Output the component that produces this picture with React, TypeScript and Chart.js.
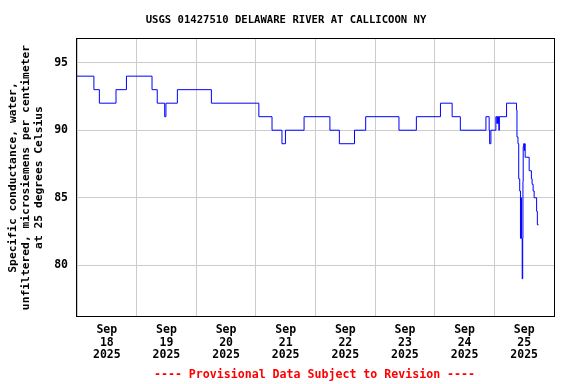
import React, { useEffect, useRef } from "react";
import { Chart, registerables } from "chart.js";

Chart.register(...registerables);

const titleText = "USGS 01427510 DELAWARE RIVER AT CALLICOON NY";
const footerText = "---- Provisional Data Subject to Revision ----";
const yTitleLines = [
  "Specific conductance, water,",
  "unfiltered, microsiemens per centimeter",
  "at 25 degrees Celsius",
];
const monthLabel = "Sep";
const yearLabel = "2025";
const dayLabels = ["18", "19", "20", "21", "22", "23", "24", "25"];
const yTickValues = [80, 85, 90, 95];

// hours since Sep 18 2025 00:00, value held until the next entry
const stepHours = [
  0, 6.8, 9.0, 15.7, 19.9, 30.2, 32.3, 35.3, 35.8, 40.4,
  54.1, 73.2, 78.5, 82.5, 83.9, 91.4, 101.8, 105.6, 111.7, 116.2,
  129.6, 136.6, 146.3, 151.0, 154.3, 164.6, 165.9, 166.1, 166.6, 168.6,
  169.0, 169.2, 169.4, 169.6, 169.8, 170.0, 172.9, 176.9, 177.1, 177.5,
  177.8, 178.2, 178.5, 178.7, 178.9, 179.2, 179.4, 179.5, 179.6, 179.8,
  180.0, 180.2, 180.4, 182.0, 182.9, 183.2, 183.6, 184.0, 185.0, 185.3,
  185.8,
];
const conductance = [
  94, 93, 92, 93, 94, 93, 92, 91, 92, 93,
  92, 91, 90, 89, 90, 91, 90, 89, 90, 91,
  90, 91, 92, 91, 90, 91, 90, 89, 90, 91,
  90.5, 91, 90.5, 91, 90, 91, 92, 91.5, 89.5, 89,
  86.4, 85.5, 82, 85, 82, 79, 82, 86.2, 88.8, 89,
  88.5, 89, 88, 87, 86.4, 86, 85.5, 85, 84, 83,
  83,
];

const FONT = "'DejaVu Sans Mono', monospace";

const framePlugin = {
  id: "frameAndTexts",
  afterDraw(chart: any) {
    const { ctx, chartArea: a } = chart;
    ctx.save();
    ctx.strokeStyle = "#000000";
    ctx.lineWidth = 1;
    ctx.strokeRect(
      Math.round(a.left) - 0.5,
      Math.round(a.top) - 0.5,
      Math.round(a.right - a.left) + 1,
      Math.round(a.bottom - a.top) + 1
    );
    ctx.textAlign = "center";
    ctx.textBaseline = "middle";
    ctx.fillStyle = "#000000";
    ctx.font = `bold 10.6px ${FONT}`;
    ctx.fillText(titleText, 286, 20);
    ctx.fillStyle = "#ff0000";
    ctx.font = `bold 11.6px ${FONT}`;
    ctx.fillText(footerText, (a.left + a.right) / 2 - 1, 375);
    ctx.restore();
  },
};

export default function App() {
  const ref = useRef<HTMLCanvasElement>(null);
  useEffect(() => {
    if (!ref.current) return;
    const points = stepHours.map((h, i) => ({ x: h, y: conductance[i] }));
    const chart = new Chart(ref.current, {
      type: "line",
      data: {
        datasets: [
          {
            data: points,
            stepped: "before",
            borderColor: "#0000ff",
            borderWidth: 1,
            pointRadius: 0,
            fill: false,
          },
        ],
      },
      options: {
        animation: false,
        responsive: false,
        layout: { padding: { left: 0, right: 22, top: 39, bottom: 0 } },
        plugins: {
          legend: { display: false },
          title: { display: false },
          tooltip: { enabled: false },
        },
        scales: {
          x: {
            type: "linear",
            min: 0,
            max: dayLabels.length * 24,
            afterBuildTicks: (scale: any) => {
              const t = [];
              for (let h = 0; h <= dayLabels.length * 24; h += 12) t.push({ value: h });
              scale.ticks = t;
            },
            afterFit: (scale: any) => {
              scale.height = 68;
            },
            grid: {
              color: (c: any) =>
                c.tick && c.tick.value % 24 === 0 ? "#cccccc" : "rgba(0,0,0,0)",
              drawTicks: false,
              lineWidth: 1,
            },
            border: { display: false },
            ticks: {
              autoSkip: false,
              maxRotation: 0,
              minRotation: 0,
              padding: 8,
              color: "#000000",
              font: { family: FONT, size: 11.5, weight: "bold", lineHeight: 1.09 },
              callback: (v: any) => {
                const n = Number(v);
                if (n % 24 !== 12) return "";
                return [monthLabel, dayLabels[Math.floor(n / 24)], yearLabel];
              },
            },
          },
          y: {
            min: 76.25,
            max: 96.75,
            afterBuildTicks: (scale: any) => {
              scale.ticks = yTickValues.map((v) => ({ value: v }));
            },
            afterFit: (scale: any) => {
              scale.width = 77;
            },
            grid: { color: "#cccccc", drawTicks: false, lineWidth: 1 },
            border: { display: false },
            ticks: {
              padding: 9,
              color: "#000000",
              font: { family: FONT, size: 11.5, weight: "bold" },
            },
            title: {
              display: true,
              text: yTitleLines,
              color: "#000000",
              font: { family: FONT, size: 11.3, weight: "bold", lineHeight: 1.18 },
              padding: { top: 6, bottom: 0 },
            },
          },
        },
      },
      plugins: [framePlugin],
    });
    return () => chart.destroy();
  }, []);
  return (
    <div style={{ position: "fixed", left: 0, top: 0, width: 576, height: 384, background: "#ffffff" }}>
      <canvas ref={ref} width={576} height={384} />
    </div>
  );
}
